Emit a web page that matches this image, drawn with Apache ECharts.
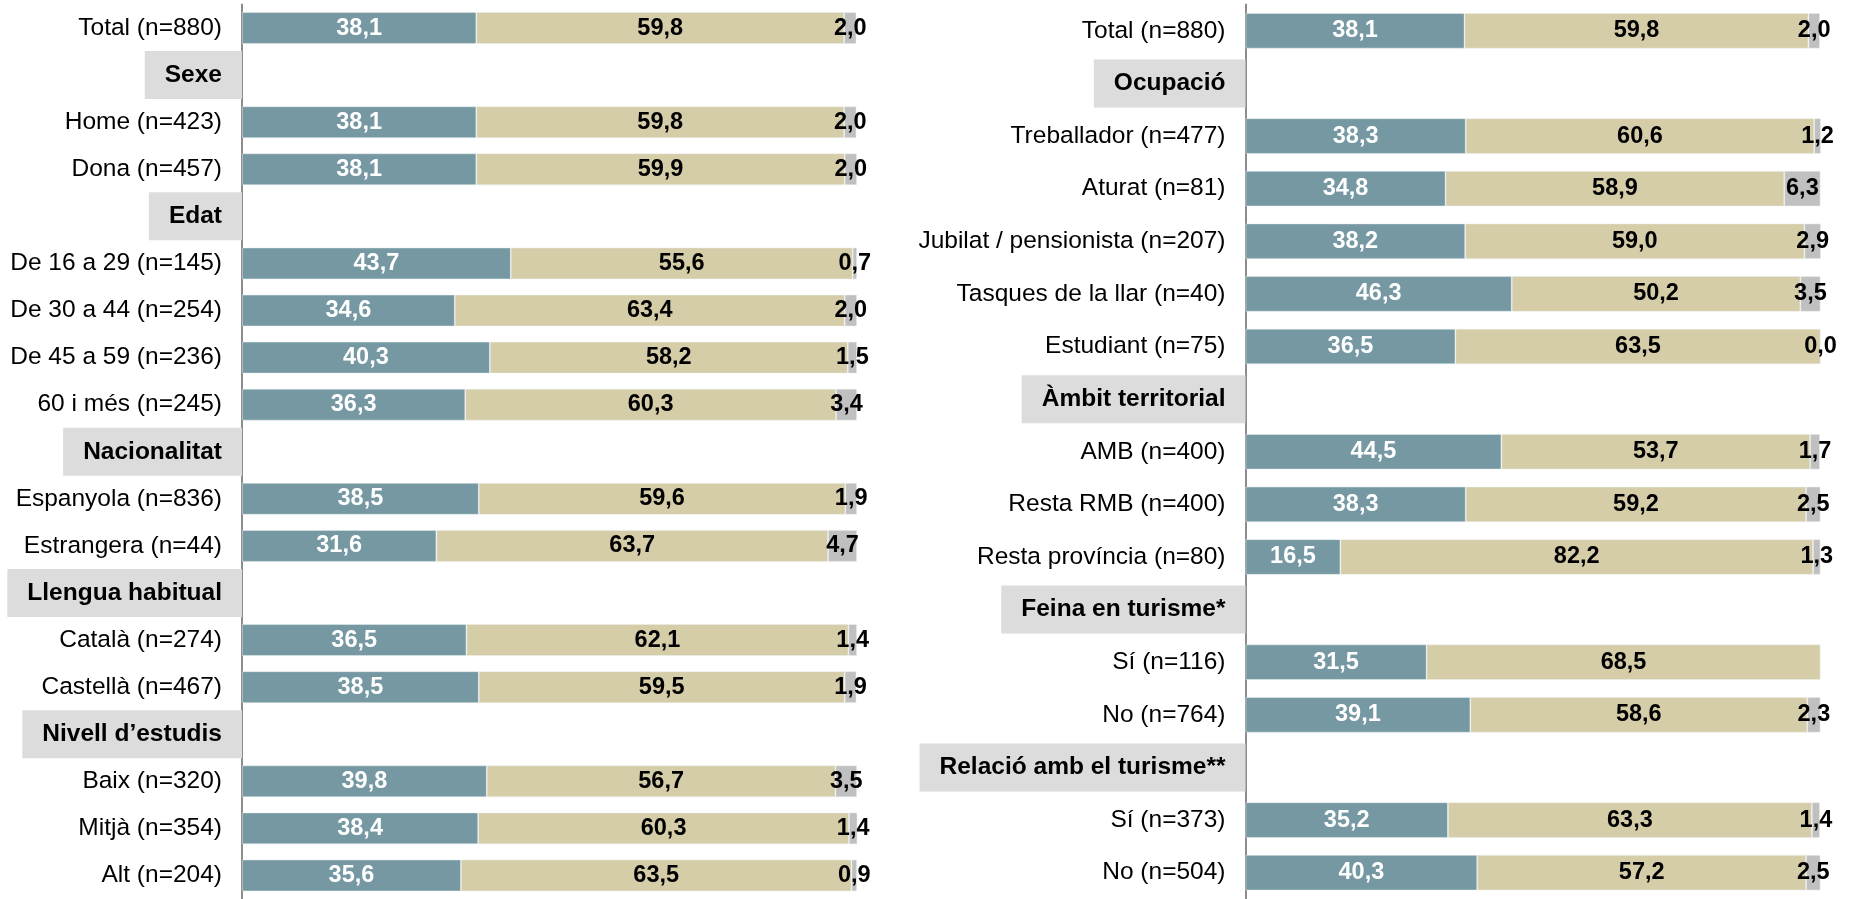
<!DOCTYPE html>
<html>
<head>
<meta charset="utf-8">
<script src="https://cdn.jsdelivr.net/npm/echarts@6/dist/echarts.min.js"></script>
<style>
html,body{margin:0;padding:0;background:#fff;}
#c{width:1856px;height:899px;}
</style>
</head>
<body>
<div id="c"></div>
<script>
// ---- Left panel data ----
const leftCategories = [
  'Total (n=880)', 'Sexe', 'Home (n=423)', 'Dona (n=457)', 'Edat',
  'De 16 a 29 (n=145)', 'De 30 a 44 (n=254)', 'De 45 a 59 (n=236)', '60 i més (n=245)',
  'Nacionalitat', 'Espanyola (n=836)', 'Estrangera (n=44)',
  'Llengua habitual', 'Català (n=274)', 'Castellà (n=467)',
  'Nivell d’estudis', 'Baix (n=320)', 'Mitjà (n=354)', 'Alt (n=204)'
];
const leftHeaders = ['Sexe', 'Edat', 'Nacionalitat', 'Llengua habitual', 'Nivell d’estudis'];
const leftBlue  = [38.1, null, 38.1, 38.1, null, 43.7, 34.6, 40.3, 36.3, null, 38.5, 31.6, null, 36.5, 38.5, null, 39.8, 38.4, 35.6];
const leftBeige = [59.8, null, 59.8, 59.9, null, 55.6, 63.4, 58.2, 60.3, null, 59.6, 63.7, null, 62.1, 59.5, null, 56.7, 60.3, 63.5];
const leftGray  = [2.0,  null, 2.0,  2.0,  null, 0.7,  2.0,  1.5,  3.4,  null, 1.9,  4.7,  null, 1.4,  1.9,  null, 3.5,  1.4,  0.9];

// ---- Right panel data ----
const rightCategories = [
  'Total (n=880)', 'Ocupació', 'Treballador (n=477)', 'Aturat (n=81)',
  'Jubilat / pensionista (n=207)', 'Tasques de la llar (n=40)', 'Estudiant (n=75)',
  'Àmbit territorial', 'AMB (n=400)', 'Resta RMB (n=400)', 'Resta província (n=80)',
  'Feina en turisme*', 'Sí (n=116)', 'No (n=764)',
  'Relació amb el turisme**', 'Sí (n=373)', 'No (n=504)'
];
const rightHeaders = ['Ocupació', 'Àmbit territorial', 'Feina en turisme*', 'Relació amb el turisme**'];
const rightBlue  = [38.1, null, 38.3, 34.8, 38.2, 46.3, 36.5, null, 44.5, 38.3, 16.5, null, 31.5, 39.1, null, 35.2, 40.3];
const rightBeige = [59.8, null, 60.6, 58.9, 59.0, 50.2, 63.5, null, 53.7, 59.2, 82.2, null, 68.5, 58.6, null, 63.3, 57.2];
const rightGray  = [2.0,  null, 1.2,  6.3,  2.9,  3.5,  0.0,  null, 1.7,  2.5,  1.3,  null, null, 2.3,  null, 1.4,  2.5];

const FONT = '"Liberation Sans", Arial, Helvetica, sans-serif';
const BLUE = '#7598a3', BEIGE = '#d5cca8', GRAY = '#c0c0c0';

function fmt(p) {
  if (p.value === null || p.value === undefined || p.value === '-') return '';
  return Number(p.value).toFixed(1).replace('.', ',');
}

function yAxisFor(cats, headers, gridIndex) {
  return {
    type: 'category', gridIndex: gridIndex, data: cats, inverse: true,
    axisLine: { show: true, lineStyle: { color: '#8c8c8c', width: 2 } },
    axisTick: { show: false },
    splitLine: { show: false },
    axisLabel: {
      margin: 0, interval: 0, fontFamily: FONT, fontSize: 24.5,
      formatter: function (v) { return headers.indexOf(v) >= 0 ? '{h|' + v + '}' : '{n|' + v + '}'; },
      rich: {
        n: { fontFamily: FONT, fontSize: 24.5, color: '#000', padding: [0, 20, 0, 0] },
        h: { fontFamily: FONT, fontSize: 24.5, fontWeight: 'bold', color: '#000', backgroundColor: '#dcdcdc',
             padding: [0, 20, 0, 20], height: 48, lineHeight: 48 }
      }
    }
  };
}

function seriesFor(data, color, labelColor, idx, stack) {
  return {
    type: 'bar', stack: stack, xAxisIndex: idx, yAxisIndex: idx,
    data: data, barWidth: '67.5%',
    itemStyle: { color: color, borderColor: 'rgba(235,240,240,0.6)', borderWidth: 0.8 },
    label: {
      show: true, position: 'inside', formatter: fmt,
      fontFamily: FONT, fontSize: 23.5, fontWeight: 'bold', color: labelColor
    },
    emphasis: { disabled: true },
    animation: false
  };
}

const chart = echarts.init(document.getElementById('c'), null, { renderer: 'canvas' });
chart.setOption({
  backgroundColor: '#fff',
  animation: false,
  textStyle: { fontFamily: FONT },
  grid: [
    { left: 242, width: 615, top: 4.5, height: 900.5 },
    { left: 1245.5, width: 575, top: 4.5, height: 901 }
  ],
  xAxis: [
    { type: 'value', gridIndex: 0, min: 0, max: 100, show: false },
    { type: 'value', gridIndex: 1, min: 0, max: 100, show: false }
  ],
  yAxis: [
    yAxisFor(leftCategories, leftHeaders, 0),
    yAxisFor(rightCategories, rightHeaders, 1)
  ],
  series: [
    seriesFor(leftBlue, BLUE, '#fff', 0, 'L'),
    seriesFor(leftBeige, BEIGE, '#000', 0, 'L'),
    seriesFor(leftGray, GRAY, '#000', 0, 'L'),
    seriesFor(rightBlue, BLUE, '#fff', 1, 'R'),
    seriesFor(rightBeige, BEIGE, '#000', 1, 'R'),
    seriesFor(rightGray, GRAY, '#000', 1, 'R')
  ]
});
</script>
</body>
</html>
